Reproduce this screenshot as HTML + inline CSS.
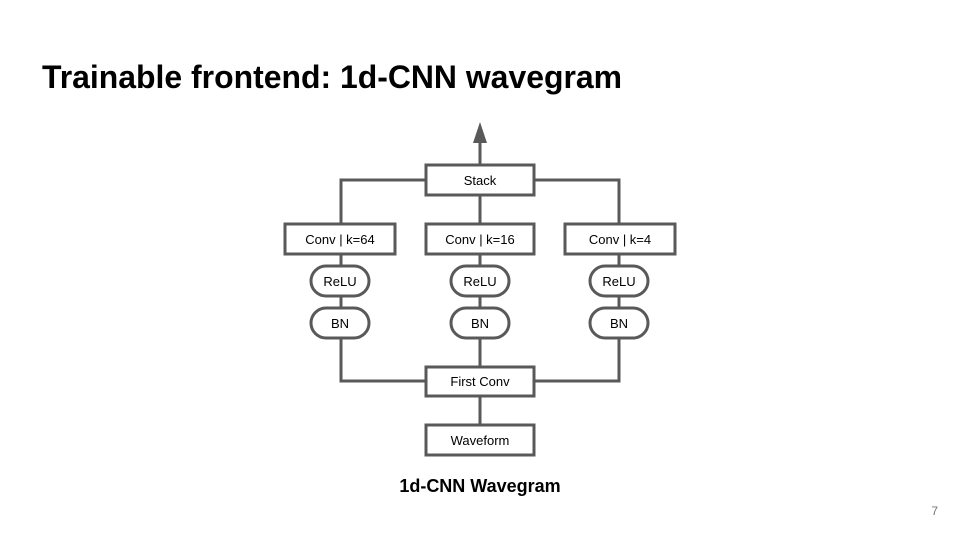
<!DOCTYPE html>
<html><head><style>
body{margin:0;background:#fff;}
svg text{font-family:"Liberation Sans",sans-serif;}
</style></head><body>
<svg width="960" height="540" viewBox="0 0 960 540" xmlns="http://www.w3.org/2000/svg">
<rect width="960" height="540" fill="#fff"/>
<text x="42" y="88" font-size="32" font-weight="bold" fill="#000" textLength="580" lengthAdjust="spacingAndGlyphs">Trainable frontend: 1d-CNN wavegram</text>
<g stroke="#595959" stroke-width="3" fill="none" stroke-linejoin="miter" stroke-linecap="square">
<line x1="480" y1="140" x2="480" y2="165"/>
<polyline points="341,224 341,180 426,180"/>
<polyline points="534,180 619,180 619,224"/>
<line x1="480" y1="195" x2="480" y2="224"/>
<polyline points="341,254 341,381 426,381"/>
<line x1="480" y1="254" x2="480" y2="367"/>
<polyline points="619,254 619,381 534,381"/>
<line x1="480" y1="396" x2="480" y2="425"/>
</g>
<polygon points="480,122 473,143 487,143" fill="#595959"/>
<g stroke="#595959" stroke-width="3" fill="#fff">
<rect x="426" y="165" width="108" height="30"/>
<rect x="285" y="224" width="110" height="30"/>
<rect x="426" y="224" width="108" height="30"/>
<rect x="565" y="224" width="110" height="30"/>
<rect x="311" y="266" width="58" height="30" rx="15"/>
<rect x="451" y="266" width="58" height="30" rx="15"/>
<rect x="590" y="266" width="58" height="30" rx="15"/>
<rect x="311" y="308" width="58" height="30" rx="15"/>
<rect x="451" y="308" width="58" height="30" rx="15"/>
<rect x="590" y="308" width="58" height="30" rx="15"/>
<rect x="426" y="367" width="108" height="29"/>
<rect x="426" y="425" width="108" height="30"/>
</g>
<g font-size="13" fill="#000" text-anchor="middle">
<text x="480" y="185">Stack</text>
<text x="340" y="244">Conv | k=64</text>
<text x="480" y="244">Conv | k=16</text>
<text x="620" y="244">Conv | k=4</text>
<text x="340" y="286">ReLU</text>
<text x="480" y="286">ReLU</text>
<text x="619" y="286">ReLU</text>
<text x="340" y="328">BN</text>
<text x="480" y="328">BN</text>
<text x="619" y="328">BN</text>
<text x="480" y="386">First Conv</text>
<text x="480" y="445">Waveform</text>
</g>
<text x="480" y="492" font-size="18" font-weight="bold" text-anchor="middle" fill="#000">1d-CNN Wavegram</text>
<text x="938" y="515" font-size="12" text-anchor="end" fill="#757575">7</text>
</svg>
</body></html>
